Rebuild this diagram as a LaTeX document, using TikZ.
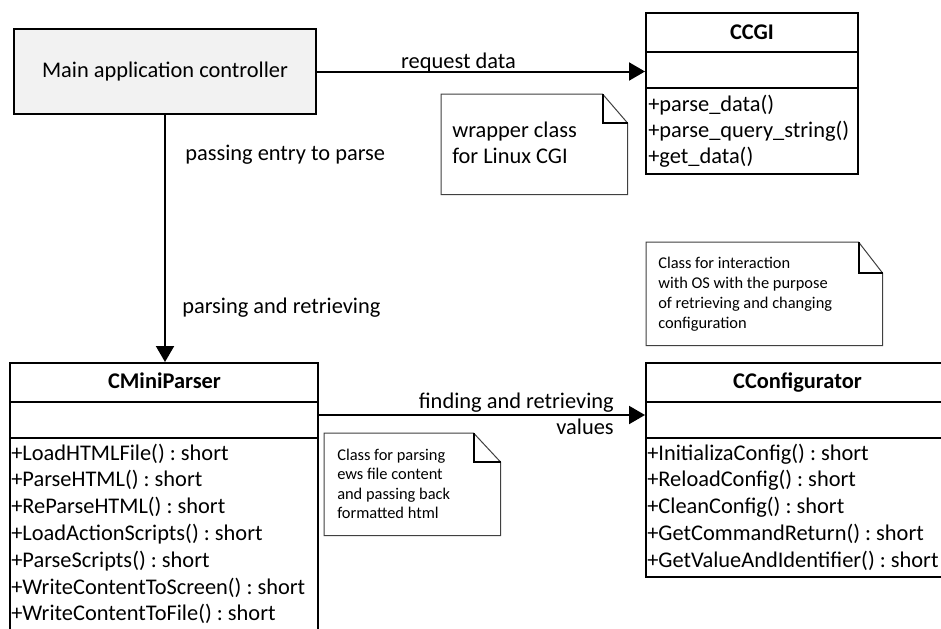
\documentclass[tikz,border=0pt]{standalone}
\usepackage{fontspec}
\setmainfont{Carlito}
\usetikzlibrary{arrows.meta}
\frenchspacing
\newcommand\mynote[3]{%
  \draw[notebd] (#1.north west) -- ([xshift=-#2]#1.north east) -- ([yshift=-#3]#1.north east) -- (#1.south east) -- (#1.south west) -- cycle;
  \draw[foldln] ([xshift=-#2]#1.north east) -- ([xshift=-#2,yshift=-#3]#1.north east) -- ([yshift=-#3]#1.north east);
}
\begin{document}
\frenchspacing
\begin{tikzpicture}[x=0.75pt,y=-0.75pt,
  txt/.style={inner sep=0pt, font=\fontsize{16.8pt}{20pt}\selectfont},
  ttl/.style={txt, font=\fontsize{16.8pt}{20pt}\selectfont\bfseries},
  stxt/.style={inner sep=0pt, font=\fontsize{12.3pt}{15pt}\selectfont},
  box/.style={draw=black, line width=1.5pt, inner sep=0pt, anchor=north west},
  mainbox/.style={box, fill=black!5},
  notearea/.style={inner sep=0pt, anchor=north west},
  notebd/.style={draw=black!75, line width=0.75pt, fill=white, line join=miter},
  foldln/.style={draw=black, line width=1.5pt},
  sep/.style={draw=black, line width=1.5pt},
  conn/.style={draw=black, line width=1.5pt, -{Triangle[length=12pt,width=13.5pt]}}
]
\useasboundingbox (0,0) rectangle (941,628);
\clip (0,0) rectangle (941,628);
\fill[white] (0,0) rectangle (941,628);

% main controller
\node[mainbox, minimum width=302*0.75pt, minimum height=85*0.75pt, font=\fontsize{16.8pt}{20pt}\selectfont] (main) at (13,28) {Main application controller};

% CCGI class
\node[box, minimum width=212*0.75pt, minimum height=161*0.75pt] (ccgi) at (645,12) {};
\draw[sep] (645,52) -- (857,52);
\draw[sep] (645,88) -- (857,88);
\node[ttl, anchor=base] (ccgit) at (752,39) {CCGI};
\foreach \t [count=\i] in {+parse\_data(), +parse\_query\_string(), +get\_data()}
  \node[txt, anchor=base west] (ccgim\i) at (648,{111+26*(\i-1)}) {\t};

% CMiniParser class
\node[box, minimum width=308*0.75pt, minimum height=290*0.75pt] (mp) at (9,362) {};
\draw[sep] (9,402) -- (317,402);
\draw[sep] (9,438) -- (317,438);
\node[ttl, anchor=base] (mpt) at (164.5,388) {CMiniParser};
\foreach \t [count=\i] in {+LoadHTMLFile() : short, +ParseHTML() : short, +ReParseHTML() : short, +LoadActionScripts() : short, +ParseScripts() : short, +WriteContentToScreen() : short, +WriteContentToFile() : short}
  \node[txt, anchor=base west] (mpm\i) at (11,{460+26.8*(\i-1)}) {\t};

% CConfigurator class
\node[box, minimum width=306*0.75pt, minimum height=214*0.75pt] (cfg) at (645,362) {};
\draw[sep] (645,402) -- (951,402);
\draw[sep] (645,438) -- (951,438);
\node[ttl, anchor=base] (cfgt) at (797.5,388) {CConfigurator};
\foreach \t [count=\i] in {+InitializaConfig() : short, +ReloadConfig() : short, +CleanConfig() : short, +GetCommandReturn() : short, +GetValueAndIdentifier() : short}
  \node[txt, anchor=base west] (cfgm\i) at (647,{460+26.8*(\i-1)}) {\t};

% notes
\node[notearea, minimum width=186*0.75pt, minimum height=100*0.75pt] (n1) at (441,94) {};
\mynote{n1}{18.75pt}{21.75pt}
\node[txt, anchor=base west] (n1a) at (452,137) {wrapper class};
\node[txt, anchor=base west] (n1b) at (452,163) {for Linux CGI};

\node[notearea, minimum width=236*0.75pt, minimum height=103*0.75pt] (n2) at (646,242) {};
\mynote{n2}{18pt}{23.25pt}
\foreach \t [count=\i] in {Class for interaction, with OS with the purpose, of retrieving and changing, configuration}
  \node[stxt, anchor=base west] (n2l\i) at (658,{268+20.3*(\i-1)}) {\t};

\node[notearea, minimum width=176*0.75pt, minimum height=102*0.75pt] (n3) at (324,433) {};
\mynote{n3}{20.25pt}{21.75pt}
\foreach \t [count=\i] in {Class for parsing, ews file content, and passing back, formatted html}
  \node[stxt, anchor=base west] (n3l\i) at (337,{460.5+19.4*(\i-1)}) {\t};

% connectors
\draw[conn] (main.east) -- (main.east -| ccgi.west);
\node[txt, anchor=base] (l1) at (458.5,68) {request data};

\draw[conn] (main.south) -- (main.south |- mp.north);
\node[txt, anchor=base west] (l2) at (185,160) {passing entry to parse};
\node[txt, anchor=base west] (l3) at (182,313) {parsing and retrieving};

\coordinate (s3) at ([yshift=-39.75pt]mp.north east);
\draw[conn] (s3) -- (s3 -| cfg.west);
\node[txt, anchor=base east] (l4) at (614,408) {finding and retrieving};
\node[txt, anchor=base east] (l5) at (614,434) {values};
\end{tikzpicture}
\end{document}
